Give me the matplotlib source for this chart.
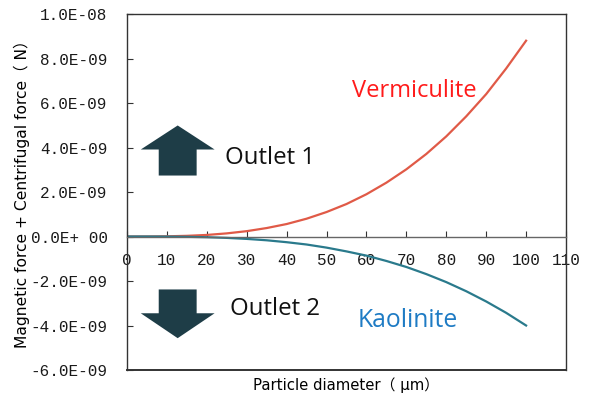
import numpy as np
import matplotlib.pyplot as plt

# particle diameter (um) and net force (N)
diameter = [0, 5, 10, 15, 20, 25, 30, 35, 40, 45, 50, 55, 60, 65, 70, 75, 80, 85, 90, 95, 100]
vermiculite = [0, 0.001e-9, 0.009e-9, 0.03e-9, 0.07e-9, 0.14e-9, 0.24e-9, 0.38e-9, 0.56e-9,
               0.80e-9, 1.1e-9, 1.46e-9, 1.9e-9, 2.42e-9, 3.02e-9, 3.71e-9, 4.5e-9, 5.4e-9,
               6.4e-9, 7.55e-9, 8.8e-9]
kaolinite = [0, -0.0005e-9, -0.004e-9, -0.0135e-9, -0.032e-9, -0.0625e-9, -0.108e-9, -0.17e-9,
             -0.256e-9, -0.36e-9, -0.5e-9, -0.67e-9, -0.86e-9, -1.1e-9, -1.37e-9, -1.69e-9,
             -2.05e-9, -2.46e-9, -2.92e-9, -3.43e-9, -4.0e-9]

yticks = [-6e-9, -4e-9, -2e-9, 0, 2e-9, 4e-9, 6e-9, 8e-9, 1e-8]
ytick_labels = ['-6.0E-09', '-4.0E-09', '-2.0E-09', '0.0E+ 00', '2.0E-09',
                '4.0E-09', '6.0E-09', '8.0E-09', '1.0E-08']
xticks = [0, 10, 20, 30, 40, 50, 60, 70, 80, 90, 100, 110]

frame = '#333333'
tickfont = {'family': 'Liberation Mono', 'size': 11.5, 'color': '#1a1a1a'}
labelfont = ['DejaVu Sans', 'Noto Sans CJK JP']

fig = plt.figure(figsize=(5.9, 4.01), dpi=100)
ax = fig.add_axes([127/590, 1 - 370/401, 439/590, 356/401])

ax.plot(diameter, vermiculite, color='#E05A47', lw=1.6, solid_joinstyle='round')
ax.plot(diameter, kaolinite, color='#2A7A8C', lw=1.6, solid_joinstyle='round')

ax.set_xlim(0, 110)
ax.set_ylim(-6e-9, 1e-8)

for s in ax.spines.values():
    s.set_color(frame)
    s.set_linewidth(1.0)
ax.spines['bottom'].set_position(('data', 0))
ax.spines['bottom'].set_color('#666666')
ax.axhline(-6e-9, color=frame, lw=1.4, clip_on=False)

ax.set_xticks(xticks)
ax.set_xticklabels([str(x) for x in xticks], fontdict=tickfont)
ax.set_yticks(yticks)
ax.set_yticklabels(ytick_labels, fontdict=tickfont)
ax.tick_params(axis='x', direction='in', length=4, pad=12, color=frame)
ax.tick_params(axis='y', direction='in', length=4, pad=14, color=frame)
ax.tick_params(top=False, right=False)

ax.set_ylabel('Magnetic force + Centrifugal force（ N）', fontsize=11.2,
              family=labelfont)
ax.yaxis.set_label_coords(-0.222, 0.505)
ax.set_xlabel('Particle diameter（ μm）', fontsize=10.7, family=labelfont)
ax.xaxis.set_label_coords(0.5, -0.02)

# outlet arrows
arrow_color = '#1E3D47'
ax.arrow(12.7, 2.74e-9, 0, 1.17e-9, width=9.5, head_width=18.5, head_length=1.08e-9,
         length_includes_head=False, color=arrow_color, lw=0)
ax.arrow(12.7, -2.38e-9, 0, -1.07e-9, width=9.5, head_width=18.5, head_length=1.12e-9,
         length_includes_head=False, color=arrow_color, lw=0)

ax.text(24.5, 3.55e-9, 'Outlet 1', fontsize=17.3, family='Open Sans', va='center', color='#111111')
ax.text(25.8, -3.25e-9, 'Outlet 2', fontsize=17.3, family='Open Sans', va='center', color='#111111')
ax.text(56.3, 6.55e-9, 'Vermiculite', fontsize=17, family='Open Sans', va='center', color='#FF1A1A')
ax.text(57.8, -3.78e-9, 'Kaolinite', fontsize=17.8, family='Open Sans', va='center', color='#1E7BC4')

fig.savefig('out.png', dpi=100)
